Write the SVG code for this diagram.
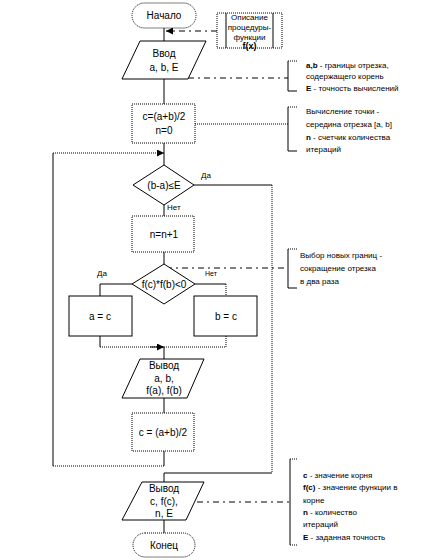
<svg xmlns="http://www.w3.org/2000/svg" width="440" height="560" viewBox="0 0 440 560">
<style>
text{font-family:"Liberation Sans",Arial,sans-serif;fill:#000}
.t{font-size:10px;text-anchor:middle}
.a{font-size:8px}
.s{fill:#fff;stroke:#000;stroke-width:1}
.d{fill:#fff;stroke:#000;stroke-width:1;stroke-dasharray:1 1}
.l{fill:none;stroke:#000;stroke-width:1}
.ld{fill:none;stroke:#000;stroke-width:1;stroke-dasharray:1 1}
.da{fill:none;stroke:#000;stroke-width:1;stroke-dasharray:6 4 2 4}
</style>
<defs>
<marker id="ar" markerWidth="8" markerHeight="8" refX="7" refY="3.5" orient="auto" markerUnits="userSpaceOnUse">
<path d="M0,0 L7,3.5 L0,7 Z" fill="#000"/>
</marker>
</defs>
<g id="connectors">
<path class="l" d="M164,28 V41"/>
<path class="l" d="M164,79 V104"/>
<path class="l" d="M164,143 V165"/>
<path class="l" d="M164,205 V216"/>
<path class="l" d="M164,252 V264"/>
<path class="l" d="M164,347 V359"/>
<path class="l" d="M164,398 V413"/>
<path class="l" d="M164,451 V466"/>
<path class="l" d="M164,473 V482"/>
<path class="l" d="M164,520 V533"/>
<path class="ld" d="M164,466 H53"/>
<path class="l" d="M53,466 V153"/>
<path class="ld" d="M53,153 H164" marker-end="url(#ar)"/>
<path class="l" d="M194,185 H272"/>
<path class="ld" d="M272,185 V473"/>
<path class="l" d="M272,473 H164"/>
<path class="l" d="M132,284 H100 V296"/>
<path class="l" d="M195,284 H226"/>
<path class="ld" d="M226,284 V296"/>
<path class="l" d="M100,336 V347"/>
<path class="ld" d="M100,347 H226 V336"/>
<path class="l" d="M150,347 H164" marker-end="url(#ar)"/>
<path class="da" d="M217,31 H166" marker-end="url(#ar)"/>
<path class="da" d="M188,78 H288"/>
<path class="ld" d="M195,124 H288"/>
<path class="da" d="M166,268 H288"/>
<path class="da" d="M197,502 H290"/>
<path class="l" d="M297,91 H288 V61"/>
<path class="ld" d="M288,61 H297"/>
<path class="l" d="M297,151 H288 V107"/>
<path class="ld" d="M288,107 H297"/>
<path class="l" d="M297,288 H288 V249"/>
<path class="ld" d="M288,249 H297"/>
<path class="l" d="M290,459 V545"/>
<path class="ld" d="M290,459 H298 M290,545 H298"/>
<text x="201" y="178" class="a">Да</text>
<text x="167" y="210" class="a">Нет</text>
<text x="97" y="276" class="a">Да</text>
<text x="205" y="276" font-size="7px">Нет</text>
</g>
<g id="start">
<rect class="d" x="132" y="3" width="64" height="25" rx="12.5"/>
<text x="164" y="19" class="t">Начало</text>
</g>
<g id="func">
<rect class="d" x="217" y="13" width="65" height="35"/>
<path class="l" d="M226,13 V48 M273,13 V48"/>
<text x="249.5" y="20" font-size="8px" text-anchor="middle">Описание</text>
<text x="249.5" y="30" font-size="8px" text-anchor="middle">процедуры-</text>
<text x="249.5" y="40" font-size="8px" text-anchor="middle">функции</text>
<text x="249.5" y="49" font-size="9px" font-weight="bold" text-anchor="middle">f(x)</text>
</g>
<g id="input">
<polygon class="s" points="140,41 206,41 188,79 122,79"/>
<text x="164" y="57" class="t">Ввод</text>
<text x="164" y="71" class="t">a, b, E</text>
</g>
<g id="init">
<rect class="d" x="132" y="104" width="63" height="39"/>
<text x="164" y="120" class="t">c=(a+b)/2</text>
<text x="164" y="134" class="t">n=0</text>
</g>
<g id="cond1">
<polygon class="s" points="164,165 194,185 164,205 133,185"/>
<text x="164" y="189" class="t">(b-a)≤E</text>
</g>
<g id="inc">
<rect class="d" x="132" y="216" width="62" height="36"/>
<text x="164" y="238" class="t">n=n+1</text>
</g>
<g id="cond2">
<polygon class="s" points="164,264 195,284 164,304 132,284"/>
<text x="164" y="288" class="t">f(c)*f(b)&lt;0</text>
</g>
<g id="ac">
<rect class="s" x="69" y="296" width="63" height="40"/>
<text x="100" y="320" class="t">a = c</text>
</g>
<g id="bc">
<rect class="s" x="194" y="296" width="63" height="40"/>
<text x="226" y="320" class="t">b = c</text>
</g>
<g id="out1">
<polygon class="s" points="140,359 204,359 187,398 122,398"/>
<text x="164" y="369" class="t">Вывод</text>
<text x="164" y="382" class="t">a, b,</text>
<text x="164" y="394" class="t">f(a), f(b)</text>
</g>
<g id="mid">
<rect class="d" x="132" y="413" width="62" height="38"/>
<text x="163" y="436" class="t">c = (a+b)/2</text>
</g>
<g id="out2">
<polygon class="s" points="142,482 204,482 186,520 122,520"/>
<text x="164" y="492" class="t">Вывод</text>
<text x="164" y="505" class="t">c,  f(c),</text>
<text x="164" y="517" class="t">n, E</text>
</g>
<g id="end">
<rect class="d" x="133" y="533" width="62" height="24" rx="12"/>
<text x="164" y="549" class="t">Конец</text>
</g>
<g id="note1">
<text x="306" y="68" class="a"><tspan font-weight="bold">a,b</tspan> - границы отрезка,</text>
<text x="306" y="79" class="a">содержащего корень</text>
<text x="306" y="91" class="a"><tspan font-weight="bold">E</tspan>  - точность вычислений</text>
</g>
<g id="note2">
<text x="306" y="114" class="a">Вычисление точки -</text>
<text x="306" y="127" class="a">середина отрезка [a, b]</text>
<text x="306" y="140" class="a"><tspan font-weight="bold">n</tspan>  - счетчик количества</text>
<text x="306" y="152" class="a">итераций</text>
</g>
<g id="note3">
<text x="300" y="258" class="a">Выбор новых границ -</text>
<text x="300" y="271" class="a">сокращение отрезка</text>
<text x="300" y="284" class="a">в два раза</text>
</g>
<g id="note4">
<text x="303" y="478" class="a"><tspan font-weight="bold">c</tspan>  -  значение корня</text>
<text x="303" y="490" class="a"><tspan font-weight="bold">f(c)</tspan>  -  значение функции в</text>
<text x="303" y="503" class="a">корне</text>
<text x="303" y="515" class="a"><tspan font-weight="bold">n</tspan>      -  количество</text>
<text x="303" y="527" class="a">итераций</text>
<text x="303" y="540" class="a"><tspan font-weight="bold">E</tspan>       -  заданная точность</text>
</g>
</svg>
